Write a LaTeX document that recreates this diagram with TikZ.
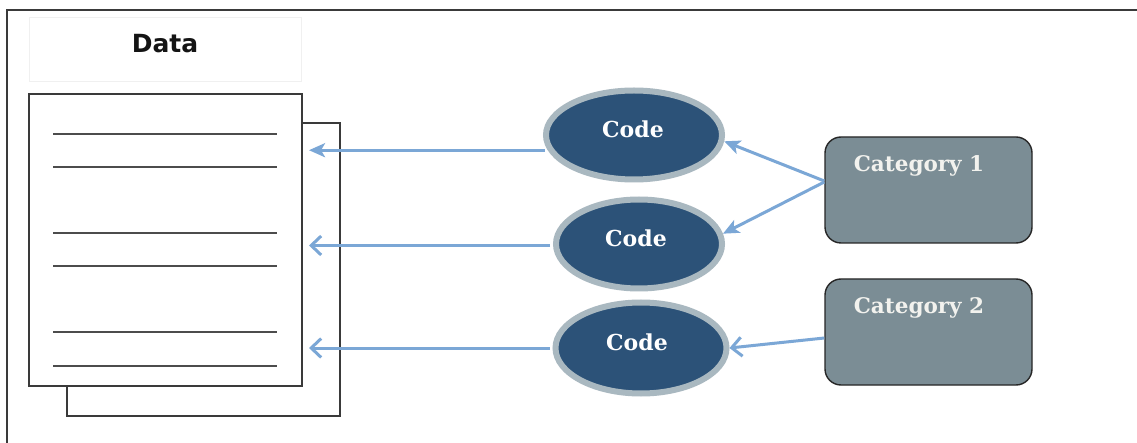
\documentclass[tikz,border=0pt]{standalone}
\usepackage{fontspec}
\usetikzlibrary{shapes.geometric,arrows.meta}
\newfontfamily\dataFont{DejaVu Sans}
\newfontfamily\serifFont{DejaVu Serif}
\definecolor{frameC}{HTML}{3A3A3A}
\definecolor{arrowC}{HTML}{7BA7D6}
\definecolor{codeFill}{HTML}{2C5278}
\definecolor{codeRing}{HTML}{A9B8C0}
\definecolor{catFill}{HTML}{7B8D95}
\definecolor{catText}{HTML}{F2F2EE}
\tikzset{
  x=1pt, y=-1pt,
  docpage/.style={draw=frameC, line width=2pt, fill=white, inner sep=0pt, minimum width=273pt, minimum height=292pt},
  docline/.style={draw=black!70, line width=2pt},
  codeell/.style={ellipse, draw=codeRing, line width=6pt, fill=codeFill, inner sep=0pt},
  codetext/.style={text=white, font=\serifFont\bfseries\fontsize{22}{24}\selectfont, inner sep=0pt},
  catbox/.style={draw=black!85, line width=1.4pt, fill=catFill, rounded corners=16pt, inner sep=0pt, minimum width=207pt, minimum height=106pt},
  cattext/.style={text=catText, font=\serifFont\bfseries\fontsize{21.5}{24}\selectfont, inner sep=0pt},
  fillarr/.style={draw=arrowC, line width=3pt, -{Stealth[length=16pt,width=14pt,inset=4pt]}},
  openarr/.style={draw=arrowC, line width=3pt, -{Straight Barb[length=10pt,width=19pt]}},
}
\begin{document}
\begin{tikzpicture}
\useasboundingbox (0,0) rectangle (1137,443);
\fill[white] (0,0) rectangle (1137,443);
% outer frame (only top and left edges are visible)
\draw[frameC, line width=1.8pt] (7,443) -- (7,10) -- (1137,10);
% Data title box
\node[draw=black!6, line width=0.8pt, minimum width=272pt, minimum height=64pt, inner sep=0pt] (databox) at (165,49) {};
\node[font=\dataFont\bfseries\fontsize{25}{27}\selectfont, text=black!92, inner sep=0pt] (datatext) at (165,44) {Data};
% documents
\node[docpage] (docb) at (203.5,269.5) {};
\node[docpage] (doc) at (165.5,240) {};
\foreach \yy in {134,167,233,266,332,366}
  \draw[docline] (53,\yy) -- (277,\yy);
\coordinate (ax) at (309,0);
% codes
\node[codeell, minimum width=176pt, minimum height=89pt] (c1) at (634,135) {};
\node[codeell, minimum width=166pt, minimum height=89pt] (c2) at (639,244) {};
\node[codeell, minimum width=171pt, minimum height=91pt] (c3) at (641,348) {};
\node[codetext] (c1t) at (633,129) {Code};
\node[codetext] (c2t) at (636,238) {Code};
\node[codetext] (c3t) at (637,342) {Code};
% categories
\node[catbox] (k1) at (928.5,190) {};
\node[catbox] (k2) at (928.5,332) {};
\node[cattext] (k1t) at (919,166) {Category 1};
\node[cattext] (k2t) at (919,308) {Category 2};
% arrows
\draw[fillarr, shorten <=3pt] (c1.190) -- (c1.190 -| ax);
\draw[openarr, shorten <=3pt] (c2.181) -- (c2.181 -| ax);
\draw[openarr, shorten <=3pt] (c3.west) -- (c3.west -| ax);
\draw[fillarr] ([yshift=9pt]k1.west) -- (c1.-4);
\draw[fillarr] ([yshift=8pt]k1.west) -- (c2.7);
\draw[openarr] ([yshift=-6pt]k2.west) -- (c3.east);
\end{tikzpicture}
\end{document}
